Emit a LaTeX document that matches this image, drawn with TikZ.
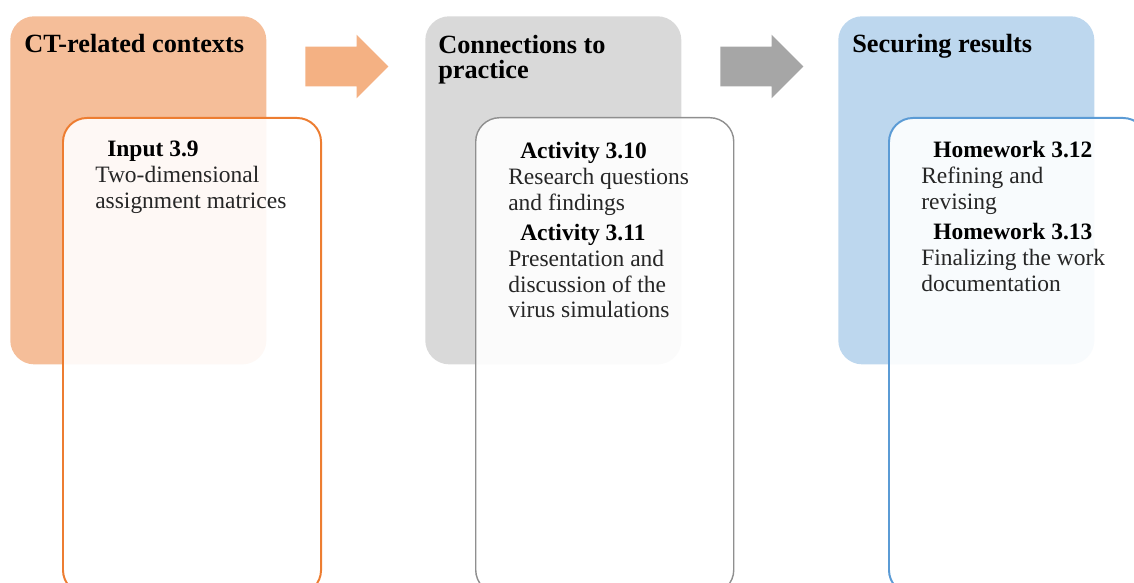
\documentclass[tikz,border=0pt]{standalone}
\usepackage{fontspec}
\setmainfont{Liberation Serif}
\usetikzlibrary{shapes.arrows}

\definecolor{ctorange}{HTML}{F5BE99}
\definecolor{ctorangeline}{HTML}{ED7D31}
\definecolor{ctorangearrow}{HTML}{F4B183}
\definecolor{ctgray}{HTML}{D9D9D9}
\definecolor{ctgrayline}{HTML}{8F8F8F}
\definecolor{ctgrayarrow}{HTML}{A6A6A6}
\definecolor{ctblue}{HTML}{BDD7EE}
\definecolor{ctblueline}{HTML}{5B9BD5}

\newcommand{\itemhead}[1]{\hspace*{0.3cm}{\color{black}\bfseries #1}}

\begin{document}
\begin{tikzpicture}[x=0.025cm, y=-0.025cm,
    outerbox/.style={rectangle, rounded corners=0.6cm, minimum width=6.4cm,
        minimum height=8.7cm, anchor=north west, inner sep=0},
    innerbox/.style={rectangle, rounded corners=0.6cm, minimum width=6.45cm,
        minimum height=11.9cm, anchor=north west, fill=white,
        fill opacity=0.9, inner sep=0},
    blockarrow/.style={single arrow, minimum height=2.075cm,
        inner xsep=0, inner ysep=0.4875cm,
        single arrow head extend=0.3cm, anchor=tail},
    heading/.style={font=\fontsize{18.7}{17.8}\selectfont\bfseries,
        align=left, anchor=north west, inner sep=0},
    itemtext/.style={font=\fontsize{16.7}{18.3}\selectfont, text=black!85,
        align=left, anchor=north west, inner sep=0}]

    \clip (0,0) rectangle (1134,583);

    % coloured back panels
    \node[outerbox, fill=ctorange] (ctx) at (10,16) {};
    \node[outerbox, fill=ctgray] (conn) at (425,16) {};
    \node[outerbox, fill=ctblue] (sec) at (838,16) {};

    % block arrows between the panels
    \node[blockarrow, fill=ctorangearrow] (arr1) at (305,66.5) {};
    \node[blockarrow, fill=ctgrayarrow] (arr2) at (720,66.5) {};

    % white cards on top
    \node[innerbox, draw=ctorangeline, line width=1.4pt] (in1) at (62,117) {};
    \node[innerbox, draw=ctgrayline, line width=1pt] (in2) at (475,117) {};
    \node[innerbox, draw=ctblueline, line width=1.4pt] (in3) at (888,117) {};

    % panel titles
    \node[heading] (ctxtitle) at (24,34) {CT-related contexts};
    \node[heading] (conntitle) at (438,35) {Connections to\\practice};
    \node[heading] (sectitle) at (852,34) {Securing results};

    % card contents
    \node[itemtext] (input) at (95,141)
        {\itemhead{Input 3.9}\\Two-dimensional\\assignment matrices};
    \node[itemtext] (activity) at (508,142)
        {\itemhead{Activity 3.10}\\Research questions\\and findings\\[0.12cm]
         \itemhead{Activity 3.11}\\Presentation and\\discussion of the\\virus simulations};
    \node[itemtext] (homework) at (921,141)
        {\itemhead{Homework 3.12}\\Refining and\\revising\\[0.12cm]
         \itemhead{Homework 3.13}\\Finalizing the work\\documentation};

\end{tikzpicture}
\end{document}
